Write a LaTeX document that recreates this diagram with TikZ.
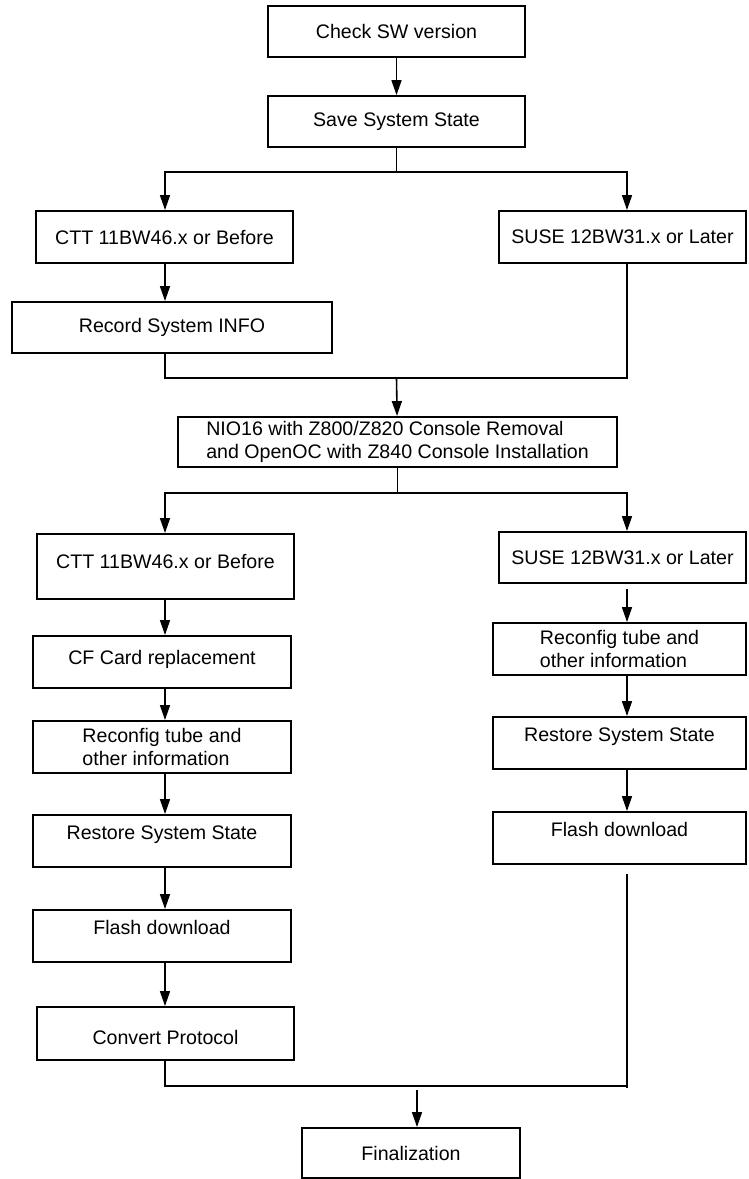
\documentclass[tikz,border=0pt]{standalone}
\usepackage{fontspec}
\setmainfont{Liberation Sans}
\usetikzlibrary{arrows.meta}
\usetikzlibrary{calc}

\tikzset{
    stepbox/.style={rectangle,draw,line width=1.9pt,inner sep=0pt,
                    font=\fontsize{19.6}{23}\selectfont},
    upper/.style={text height=14pt,text depth=#1},
    lower/.style={text height=22pt,text depth=0pt},
    flow/.style={line width=1.6pt,-{Triangle[length=15pt,width=10pt]}},
    wire/.style={line width=1.6pt}
}

\begin{document}
\begin{tikzpicture}[x=1pt,y=-1pt]

            %\draw [help lines] (0,0) grid (748,1179);
            \useasboundingbox (0,0) rectangle (748,1179);

            \path   (396.5,31.5)  node (chk)  [stepbox,minimum width=257pt,minimum height=51pt] {Check SW version}
                    (396.5,121.5) node (save) [stepbox,minimum width=257pt,minimum height=51pt] {Save System State}
                    (164.5,237)   node (ctta) [stepbox,minimum width=257pt,minimum height=52pt] {CTT 11BW46.x or Before}
                    (622.5,237)   node (susea) [stepbox,minimum width=247pt,minimum height=52pt] {SUSE 12BW31.x or Later}
                    (172,327.5)   node (rec)  [stepbox,minimum width=320pt,minimum height=51pt] {Record System INFO}
                    (397.5,442)   node (nio)  [stepbox,minimum width=439pt,minimum height=50pt,align=left] {NIO16 with Z800/Z820 Console Removal\\and OpenOC with Z840 Console Installation}
                    (165.5,566.5) node (cttb) [stepbox,minimum width=257pt,minimum height=65pt,upper=10pt] {CTT 11BW46.x or Before}
                    (622.5,557.5) node (susb) [stepbox,minimum width=247pt,minimum height=51pt] {SUSE 12BW31.x or Later}
                    (162,662)     node (cf)   [stepbox,minimum width=258pt,minimum height=52pt,upper=10pt] {CF Card replacement}
                    (162,747)     node (recfa) [stepbox,minimum width=258pt,minimum height=52pt,align=left] {Reconfig tube and\\other information}
                    (162,841)     node (resta) [stepbox,minimum width=258pt,minimum height=52pt,upper=17pt] {Restore System State}
                    (162,936)     node (flasha) [stepbox,minimum width=258pt,minimum height=52pt,upper=17pt] {Flash download}
                    (165.5,1033.5) node (conv) [stepbox,minimum width=257pt,minimum height=53pt,lower] {Convert Protocol}
                    (619.5,649)   node (recfb) [stepbox,minimum width=253pt,minimum height=52pt,align=left] {Reconfig tube and\\other information}
                    (619.5,743)   node (restb) [stepbox,minimum width=253pt,minimum height=52pt,upper=17pt] {Restore System State}
                    (619.5,838)   node (flashb) [stepbox,minimum width=253pt,minimum height=52pt,upper=17pt] {Flash download}
                    (411,1153)    node (fin)  [stepbox,minimum width=218pt,minimum height=50pt] {Finalization};

            % column lines and join points
            \coordinate (lx) at (165,0);
            \coordinate (rx) at (627,0);
            \coordinate (splita) at (396.5,172);
            \coordinate (joina) at (396.5,378);
            \coordinate (splitb) at (397.5,493);
            \coordinate (joinc) at (417,1086);

            \draw[flow] (chk) -- (save);
            \draw[wire] (save) -- (splita);
            \draw[flow] (splita) -| (lx |- ctta.north);
            \draw[flow] (splita) -| (rx |- susea.north);
            \draw[flow] (lx |- ctta.south) -- (lx |- rec.north);
            \draw[wire] (lx |- rec.south) |- (joina) -| (rx |- susea.south);
            \draw[flow] (joina) -- (nio);

            \draw[wire] (nio) -- (splitb);
            \draw[flow] (splitb) -| (lx |- cttb.north);
            \draw[flow] (splitb) -| (rx |- susb.north);

            \draw[flow] (lx |- cttb.south) -- (lx |- cf.north);
            \draw[flow] (lx |- cf.south) -- (lx |- recfa.north);
            \draw[flow] (lx |- recfa.south) -- (lx |- resta.north);
            \draw[flow] (lx |- resta.south) -- (lx |- flasha.north);
            \draw[flow] (lx |- flasha.south) -- (lx |- conv.north);

            \draw[flow] ($(rx |- susb.south)+(0,5)$) -- (rx |- recfb.north);
            \draw[flow] (rx |- recfb.south) -- (rx |- restb.north);
            \draw[flow] (rx |- restb.south) -- (rx |- flashb.north);
            \draw[wire] ($(rx |- flashb.south)+(0,9)$) -- ($(joinc -| rx)+(0,2)$);

            \draw[wire] (lx |- conv.south) |- (joinc -| rx);
            \draw[flow] ($(joinc)+(0,4)$) -- (joinc |- fin.north);
        \end{tikzpicture}
\end{document}
